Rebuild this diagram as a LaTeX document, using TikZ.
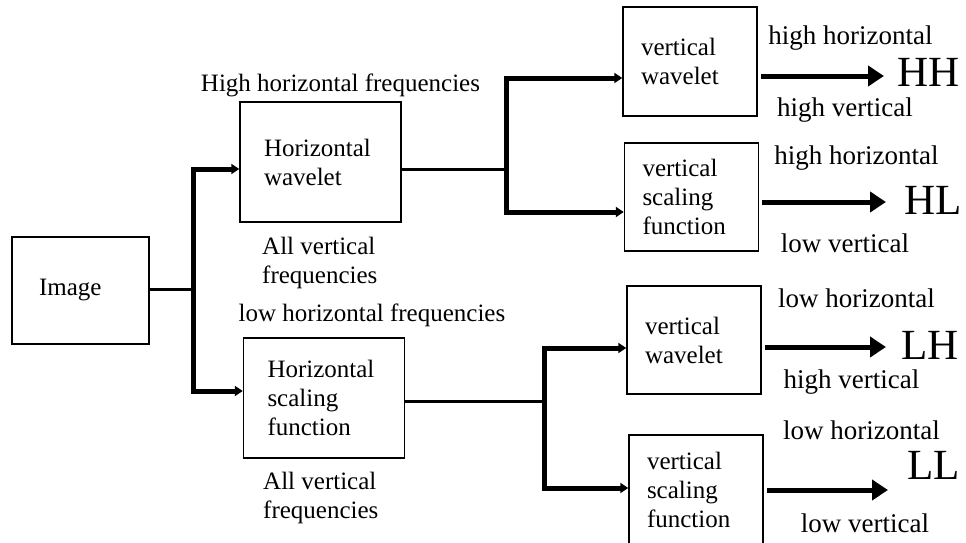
\documentclass[tikz,border=0pt]{standalone}
\usepackage{fontspec}
\setmainfont{Liberation Serif}
\usetikzlibrary{arrows.meta,positioning}

\begin{document}
\begin{tikzpicture}[x=1pt,y=-1pt,
	blk/.style={draw,line width=1.5pt,align=left,inner ysep=0pt,font=\fontsize{25}{29}\selectfont},
	imgblk/.style={blk,minimum width=137pt,minimum height=107pt,text width=83pt,inner xsep=27pt},
	hblk/.style={blk,minimum width=161pt,minimum height=120pt,text width=113pt,inner xsep=24pt},
	vblk/.style={blk,minimum width=134pt,minimum height=108pt,text width=98pt,inner xsep=18pt},
	txt/.style={inner sep=0pt,align=left,font=\fontsize{25}{29}\selectfont},
	note/.style={inner sep=0pt,font=\fontsize{27}{30}\selectfont},
	band/.style={inner sep=0pt,font=\fontsize{43}{48}\selectfont},
	feedline/.style={line width=3pt},
	forkline/.style={line width=5pt,-{Triangle[length=8pt,width=10pt]}},
	bandarrow/.style={line width=5pt,shorten <=3pt,-{Triangle[length=16pt,width=20pt]}}]
	\useasboundingbox (0,0) rectangle (966,543);
	% boxes
	\node[imgblk] (img) at (80.5,290.5) {Image};
	\node[hblk] (hw) at (320.5,162) {Horizontal\\wavelet};
	\node[hblk] (hs) at (324,398) {Horizontal\\scaling\\function};
	\node[vblk,minimum height=109pt] (vw1) at (690,61.5) {vertical\\wavelet};
	\node[vblk] (vs1) at (691.5,197) {vertical\\scaling\\function};
	\node[vblk] (vw2) at (694,340) {vertical\\wavelet};
	\node[vblk,minimum height=110pt] (vs2) at (696,490) {vertical\\scaling\\function};
	% forks
	\coordinate (f0) at (193,289);
	\coordinate (f1) at (506,169);
	\coordinate (f2) at (544,401);
	\draw[feedline] (img.east |- f0) -- (f0);
	\draw[forkline] (f0) |- ([yshift=-7pt]hw.west);
	\draw[forkline] (f0) |- ([yshift=7pt]hs.west);
	\draw[feedline] (hw.east |- f1) -- (f1);
	\draw[forkline] (f1) |- ([yshift=-16.5pt]vw1.west);
	\draw[forkline] (f1) |- ([yshift=-15pt]vs1.west);
	\draw[feedline] (hs.east |- f2) -- (f2);
	\draw[forkline] (f2) |- ([yshift=-8pt]vw2.west);
	\draw[forkline] (f2) |- ([yshift=2pt]vs2.west);
	% sub-band outputs
	\coordinate (hhtip) at (884,76);
	\coordinate (hltip) at (886,202);
	\coordinate (lhtip) at (886,347);
	\coordinate (lltip) at (888,490);
	\draw[bandarrow] (vw1.east |- hhtip) -- (hhtip);
	\draw[bandarrow] (vs1.east |- hltip) -- (hltip);
	\draw[bandarrow] (vw2.east |- lhtip) -- (lhtip);
	\draw[bandarrow] (vs2.east |- lltip) -- (lltip);
	\node[band] (hh) at (928.5,72) {HH};
	\node[band] (hl) at (933.5,200) {HL};
	\node[band] (lh) at (930,345) {LH};
	\node[band] (ll) at (933.5,465) {LL};
	\node[note] (hhup) at (850.5,38) {high horizontal};
	\node[note] (hhdown) at (845,110) {high vertical};
	\node[note] (hlup) at (856.5,158) {high horizontal};
	\node[note] (hldown) at (845,243) {low vertical};
	\node[note] (lhup) at (856.5,298) {low horizontal};
	\node[note] (lhdown) at (851.5,382) {high vertical};
	\node[note] (llup) at (861.5,430) {low horizontal};
	\node[note] (lldown) at (865,523) {low vertical};
	% horizontal stage labels
	\node[txt] (hwup) at (340.5,85) {High horizontal frequencies};
	\node[txt,anchor=west] (hwdown) at (262,263) {All vertical\\frequencies};
	\node[txt] (hsup) at (372,315) {low horizontal frequencies};
	\node[txt,anchor=west] (hsdown) at (263,497.5) {All vertical\\frequencies};
\end{tikzpicture}
\end{document}
